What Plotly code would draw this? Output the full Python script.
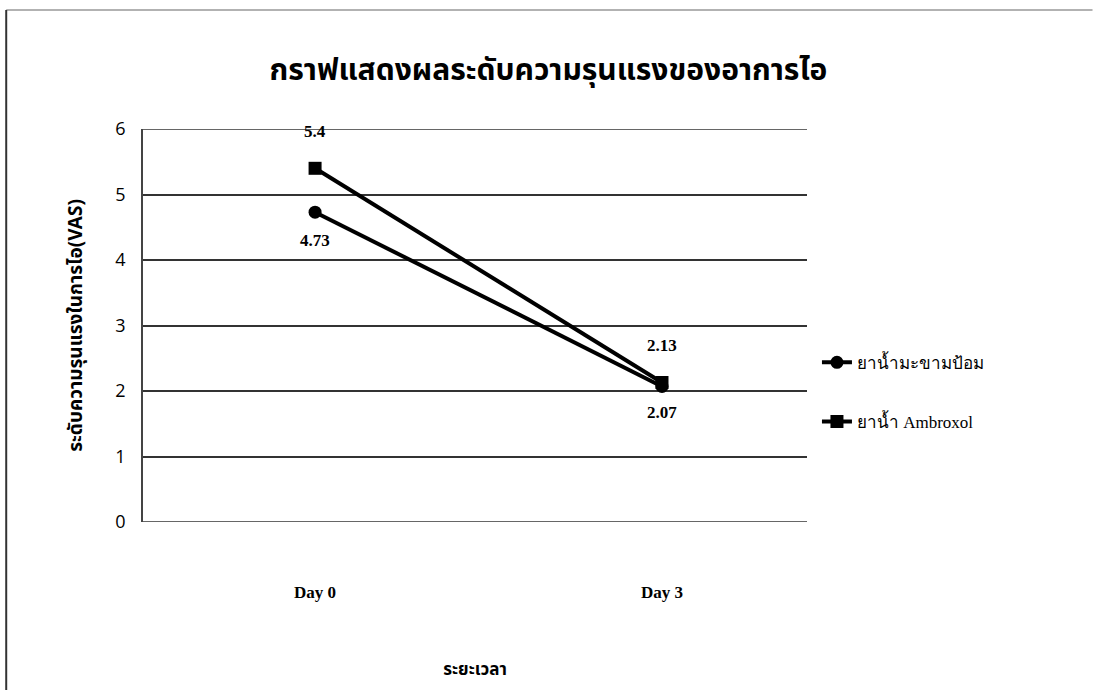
import plotly.graph_objects as go

categories = ["Day 0", "Day 3"]
series_names = ["ยาน้ำมะขามป้อม", "ยาน้ำ Ambroxol"]
makham = [4.73, 2.07]
ambroxol = [5.4, 2.13]
y_ticks = [0, 1, 2, 3, 4, 5, 6]

title_text = "กราฟแสดงผลระดับความรุนแรงของอาการไอ"
y_title = "ระดับความรุนแรงในการไอ(VAS)"
x_title = "ระยะเวลา"

serif = "Liberation Serif, Times New Roman, serif"
thai = "Noto Sans Thai, Loma, Garuda, Liberation Serif, serif"

fig = go.Figure()
fig.add_trace(go.Scatter(
    x=categories, y=makham, name=series_names[0], mode="lines+markers",
    line=dict(color="black", width=4), marker=dict(symbol="circle", size=13, color="black"),
    legendgroup="a", cliponaxis=False,
))
fig.add_trace(go.Scatter(
    x=categories, y=ambroxol, name=series_names[1], mode="lines+markers",
    line=dict(color="black", width=4), marker=dict(symbol="square", size=13, color="black"),
    legendgroup="b", cliponaxis=False,
))

# data labels
label_shifts_makham = [-28, -26]
label_shifts_ambroxol = [37, 37]
for cat, v, s in zip(categories, makham, label_shifts_makham):
    fig.add_annotation(x=cat, y=v, text=f"<b>{v:g}</b>", showarrow=False, yshift=s,
                       font=dict(family=serif, size=17, color="black"))
for cat, v, s in zip(categories, ambroxol, label_shifts_ambroxol):
    fig.add_annotation(x=cat, y=v, text=f"<b>{v:g}</b>", showarrow=False, yshift=s,
                       font=dict(family=serif, size=17, color="black"))

fig.update_layout(
    width=1097, height=690,
    margin=dict(l=143, r=290, t=129, b=168),
    paper_bgcolor="white", plot_bgcolor="white",
    title=dict(text=f"<b>{title_text}</b>", x=0.5, xanchor="center", y=0.9, yanchor="middle",
               font=dict(family=thai, size=30, color="black")),
    showlegend=True,
    legend=dict(x=1.015, y=0.33, xanchor="left", yanchor="middle",
                font=dict(family=serif, size=17, color="black"),
                traceorder="grouped", tracegroupgap=34, bgcolor="rgba(0,0,0,0)"),
    xaxis=dict(type="category", range=[-0.496, 1.418], showgrid=False,
               showline=False, zeroline=False, ticks="",
               tickfont=dict(family=serif, size=17, color="black"),
               tickprefix="<b>", ticksuffix="</b>", ticklabelstandoff=58,
               title=dict(text=f"<b>{x_title}</b>", font=dict(family=thai, size=17, color="black"), standoff=62)),
    yaxis=dict(range=[0, 6], tickvals=y_ticks, showgrid=True, gridcolor="#333333", gridwidth=1.5,
               showline=True, linecolor="#444444", linewidth=1.5, zeroline=False, ticks="",
               tickfont=dict(family="Open Sans, sans-serif", size=18, color="black"),
               ticklabelstandoff=12,
               title=dict(text=f"<b>{y_title}</b>", font=dict(family=thai, size=19, color="black"), standoff=28)),
)
# bottom axis line and top gridline
for yv in (0, 6):
    fig.add_shape(type="line", xref="paper", yref="y", x0=0, x1=1, y0=yv, y1=yv,
                  line=dict(color="#333333", width=1.5))
# page border lines (scanned frame)
fig.add_shape(type="line", xref="paper", yref="paper", x0=-0.206, x1=1.43, y0=1.3028, y1=1.3028,
              line=dict(color="#999999", width=1.5))
fig.add_shape(type="line", xref="paper", yref="paper", x0=-0.206, x1=-0.206, y0=1.3028, y1=-0.43,
              line=dict(color="#333333", width=2))

fig.write_html("out.html")
